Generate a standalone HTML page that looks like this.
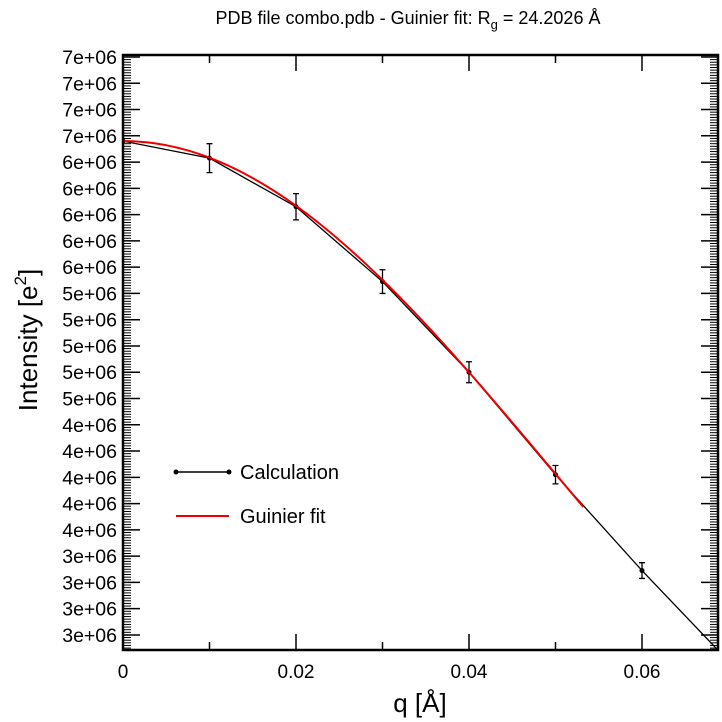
<!DOCTYPE html>
<html><head><meta charset="utf-8"><style>
body{margin:0;background:#fff;}
svg{display:block;font-family:"Liberation Sans",sans-serif;}
</style></head><body>
<svg id="chart" width="722" height="722" xmlns="http://www.w3.org/2000/svg">
<defs><clipPath id="clip"><rect x="123" y="55" width="595" height="595"/></clipPath></defs>
<text x="408" y="24" font-size="18" text-anchor="middle">PDB file combo.pdb - Guinier fit: R<tspan font-size="13" dy="5">g</tspan><tspan dy="-5"> = 24.2026 Å</tspan></text>
<g id="ticks"></g>
<g id="marks" clip-path="url(#clip)"></g>
<rect x="123" y="55" width="595" height="595" fill="none" stroke="#000" stroke-width="2.5"/>
<text x="420" y="712" font-size="26" text-anchor="middle">q [Å]</text>
<text transform="translate(37,340) rotate(-90)" font-size="26" text-anchor="middle">Intensity [e<tspan font-size="17" dy="-11">2</tspan><tspan dy="11">]</tspan></text>
<g>
<line x1="176" y1="472" x2="229" y2="472" stroke="#000" stroke-width="1.5"/>
<circle cx="176" cy="472" r="2.5"/><circle cx="229" cy="472" r="2.5"/>
<text x="240" y="479" font-size="20">Calculation</text>
<line x1="176" y1="516" x2="229" y2="516" stroke="#e00" stroke-width="2"/>
<text x="240" y="523" font-size="20">Guinier fit</text>
</g>
</svg>
<script>
const qValues=[0,0.01,0.02,0.03,0.04,0.05,0.06,0.07];
const intensity=[6.56e6,6.43e6,6.06e6,5.49e6,4.80e6,4.02e6,3.29e6,2.60e6];
const errors=[0,0.11e6,0.10e6,0.09e6,0.08e6,0.07e6,0.06e6,0.05e6];
const rg=24.2026;
const i0=6.56e6;
const fitQMax=0.0532;
const xTicks=[0,0.02,0.04,0.06];
const xTickLabels=["0","0.02","0.04","0.06"];
const yTicks=[7.2e6,7.0e6,6.8e6,6.6e6,6.4e6,6.2e6,6.0e6,5.8e6,5.6e6,5.4e6,5.2e6,5.0e6,4.8e6,4.6e6,4.4e6,4.2e6,4.0e6,3.8e6,3.6e6,3.4e6,3.2e6,3.0e6,2.8e6];
const yTickLabels=["7e+06","7e+06","7e+06","7e+06","6e+06","6e+06","6e+06","6e+06","6e+06","5e+06","5e+06","5e+06","5e+06","5e+06","4e+06","4e+06","4e+06","4e+06","4e+06","3e+06","3e+06","3e+06","3e+06"];
const X=q=>123+q*8650;
const Y=v=>57+(7.2e6-v)/0.2e6*26.27;
const NS="http://www.w3.org/2000/svg";
function mk(tag,attrs,parent){const e=document.createElementNS(NS,tag);for(const k in attrs)e.setAttribute(k,attrs[k]);parent.appendChild(e);return e;}
const tk=document.getElementById('ticks'),mg=document.getElementById('marks');
xTicks.forEach((q,i)=>{
 const x=X(q);
 mk('line',{x1:x,y1:650,x2:x,y2:634,stroke:'#000','stroke-width':1.5},tk);
 mk('line',{x1:x,y1:55,x2:x,y2:71,stroke:'#000','stroke-width':1.5},tk);
 const t=mk('text',{x:x,y:678,'font-size':19,'text-anchor':'middle'},tk);
 t.textContent=xTickLabels[i];
 
 
 const m=X(q+0.01);
 if(m<718){mk('line',{x1:m,y1:650,x2:m,y2:642,stroke:'#000','stroke-width':1.5},tk);mk('line',{x1:m,y1:55,x2:m,y2:63,stroke:'#000','stroke-width':1.5},tk);}
});
yTicks.forEach((v,i)=>{
 const y=Y(v);
 mk('line',{x1:123,y1:y,x2:140,y2:y,stroke:'#000','stroke-width':1.5},tk);
 mk('line',{x1:718,y1:y,x2:701,y2:y,stroke:'#000','stroke-width':1.5},tk);
 const t=mk('text',{x:117,y:y+7,'font-size':19.5,'text-anchor':'end'},tk);
 t.textContent=yTickLabels[i];
 
 
});
for(let v=7.3e6;v>2.6e6;v-=0.02e6){const y=Y(v);if(y<56||y>649)continue;
 mk('line',{x1:123,y1:y,x2:131,y2:y,stroke:'#000','stroke-width':1},tk);
 mk('line',{x1:718,y1:y,x2:710,y2:y,stroke:'#000','stroke-width':1},tk);}
const calc=mk('polyline',{points:qValues.map((q,i)=>X(q)+','+Y(intensity[i])).join(' '),fill:'none',stroke:'#000','stroke-width':1.3},mg);


qValues.forEach((q,i)=>{
 const x=X(q),y=Y(intensity[i]);
 const c=mk('circle',{cx:x,cy:y,r:2.5},mg);
 
 
 if(errors[i]>0){const y1=Y(intensity[i]+errors[i]),y2=Y(intensity[i]-errors[i]);
  const g=mk('path',{d:`M${x},${y1}V${y2}M${x-3},${y1}H${x+3}M${x-3},${y2}H${x+3}`,stroke:'#000','stroke-width':1.3,fill:'none'},mg);
  
  }
});
let pts=[];for(let k=0;k<=100;k++){const q=fitQMax*k/100;pts.push(X(q)+','+Y(i0*Math.exp(-q*q*rg*rg/3)));}
const fit=mk('polyline',{points:pts.join(' '),fill:'none',stroke:'#e00','stroke-width':2},mg);


</script>
</body></html>
